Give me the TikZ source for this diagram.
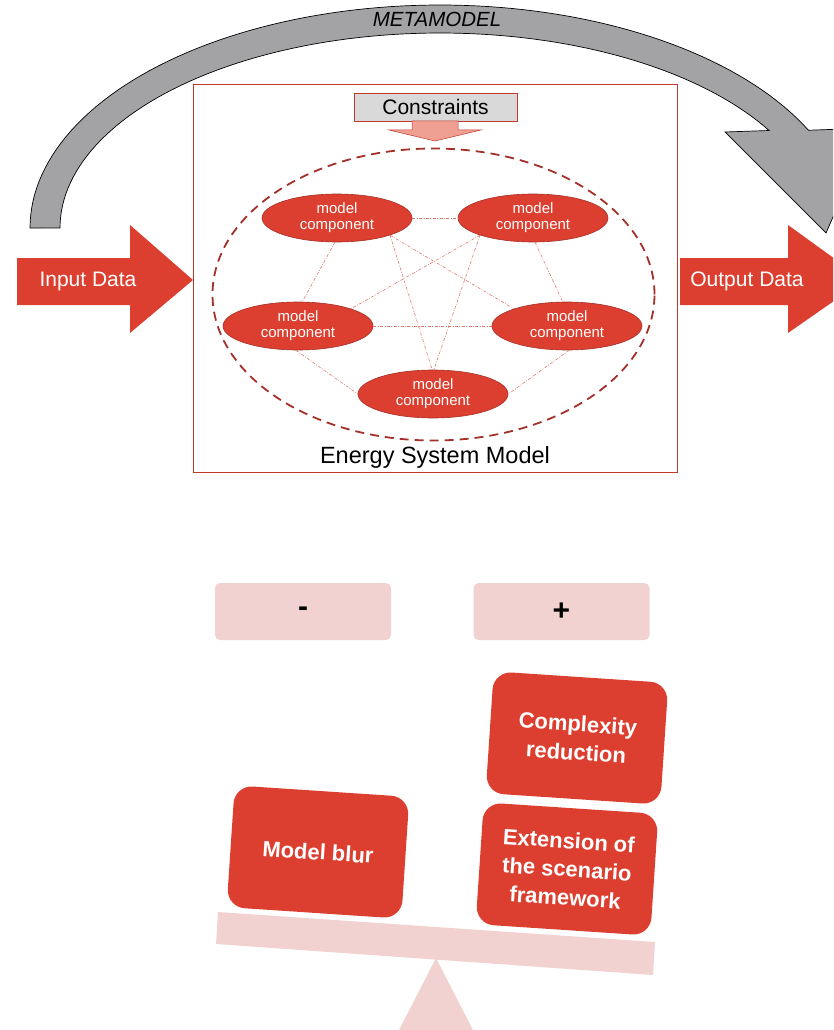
\documentclass[tikz,border=0pt]{standalone}
\usepackage{fontspec}
\setmainfont{Liberation Sans}
\usetikzlibrary{shapes.geometric}
\definecolor{myred}{HTML}{DC3F2F}
\definecolor{darkred}{HTML}{A5302A}
\definecolor{boxred}{HTML}{C0392B}
\definecolor{pinkbox}{HTML}{F2D2D1}
\definecolor{metagray}{HTML}{A3A3A5}
\definecolor{linered}{HTML}{E0786C}
\definecolor{constrarrow}{HTML}{F0A092}
\definecolor{constrgray}{HTML}{D9D9D9}
\begin{document}
\begin{tikzpicture}[x=1pt,y=-1pt,
  comp/.style={ellipse, fill=myred, draw=darkred, line width=0.6pt, minimum width=150pt, minimum height=48pt, inner sep=0pt, text=white, align=center, font=\fontsize{15}{16}\selectfont},
  link/.style={draw=linered, line width=0.6pt, dash pattern=on 3pt off 1.5pt on 0.8pt off 1.5pt},
  block/.style={fill=myred, rounded corners=18pt, minimum width=175pt, minimum height=122pt, text=white, font=\bfseries\fontsize{22}{28.5}\selectfont, align=center, rotate=-3.8, inner sep=0pt},
  sign/.style={fill=pinkbox, rounded corners=5pt, minimum width=176pt, minimum height=57pt, inner sep=0pt, font=\bfseries\fontsize{30}{30}\selectfont},
  bigarrow/.style={fill=myred},
  arrowtext/.style={text=white, font=\fontsize{21}{21}\selectfont},
]
\useasboundingbox (0,0) rectangle (833,1030);
\clip (0,0) rectangle (833,1030);

% METAMODEL band
\filldraw[fill=metagray, draw=black, line width=0.7pt]
  plot[domain=180:26,samples=90] ({440+410*cos(\x)},{228-223*sin(\x)})
  -- (872,128) -- (826,233) -- (725,132)
  -- plot[domain=30:180,samples=90] ({440+380*cos(\x)},{228-195*sin(\x)}) -- cycle;
\node[font=\itshape\fontsize{20.5}{20.5}\selectfont] (meta) at (437,19) {METAMODEL};

% Input / Output arrows
\fill[bigarrow] (17,258) -- (130,258) -- (130,225) -- (193,280) -- (130,333) -- (130,305) -- (17,305) -- cycle;
\node[arrowtext] (in) at (88,281) {Input Data};
\fill[bigarrow] (680,258) -- (788,258) -- (788,225) -- (864,280) -- (788,333) -- (788,305) -- (680,305) -- cycle;
\node[arrowtext] (out) at (747,281) {Output Data};

% Energy system model box
\node[draw=boxred, line width=1pt, minimum width=484pt, minimum height=387pt, inner sep=0pt] (esm) at (435,278.5) {};
\node[draw=boxred, line width=0.8pt, fill=constrgray, minimum width=163pt, minimum height=28pt, inner sep=0pt, font=\fontsize{21}{21}\selectfont] (con) at (435.5,107) {Constraints};
\filldraw[fill=constrarrow, draw=boxred, line width=0.5pt] (412,121) -- (458,121) -- (458,130) -- (481,130) -- (435,141) -- (389,130) -- (412,130) -- cycle;
\draw[darkred, line width=1.8pt, dash pattern=on 9pt off 6pt] (433.5,294.5) ellipse [x radius=221pt, y radius=146pt];
\node[font=\fontsize{23.5}{23.5}\selectfont] (esmlabel) at (435,457) {Energy System Model};

% components
\node[comp] (tl) at (337,218) {model\\component};
\node[comp] (tr) at (533,218) {model\\component};
\node[comp] (ml) at (298,326) {model\\component};
\node[comp] (mr) at (567,326) {model\\component};
\node[comp] (b)  at (433,394) {model\\component};

\draw[link] (tl) -- (tr);
\draw[link] (ml) -- (mr);
\draw[link] (tl.-95) -- (ml.80);
\draw[link] (tr.-85) -- (mr.100);
\draw[link] (ml.-95) -- (b.180);
\draw[link] (mr.-85) -- (b.0);
\draw[link] (tl.-18) -- (mr.162);
\draw[link] (tr.198) -- (ml.18);
\draw[link] (tl.-18) -- (b.92);
\draw[link] (tr.198) -- (b.88);

% balance
\node[sign] (minus) at (303,611.5) {-};
\node[sign] (plus) at (561.5,611.5) {+};
\fill[pinkbox] (436,958) -- (474,1032) -- (398,1032) -- cycle;
\fill[pinkbox] (218,912) -- (655,942) -- (653,975) -- (216,944) -- cycle;
\node[block] (blur) at (318,852) {Model blur};
\node[block] (cr) at (577,738) {Complexity\\reduction};
\node[block] (ext) at (567,869) {Extension of\\the scenario\\framework};
\end{tikzpicture}
\end{document}
